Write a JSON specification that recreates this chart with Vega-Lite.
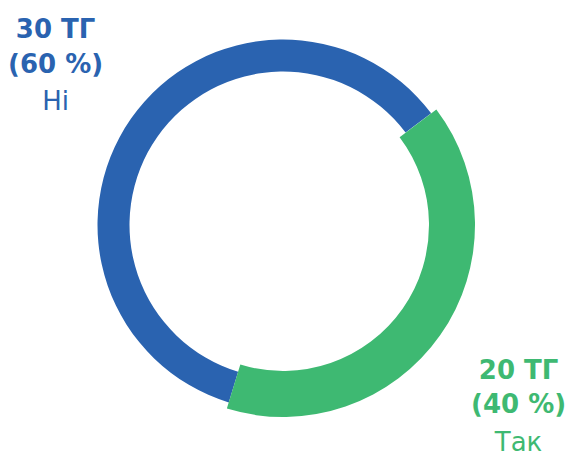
{
  "$schema": "https://vega.github.io/schema/vega-lite/v6.json",
  "width": 566,
  "height": 450,
  "autosize": "none",
  "padding": {"left": 0, "right": 0, "top": 0, "bottom": 7},
  "background": "white",
  "config": {
    "view": {"stroke": null},
    "text": {"font": "DejaVu Sans", "fontSize": 26, "align": "center", "baseline": "alphabetic"}
  },
  "data": {
    "values": [
      {"answer": "Так", "count": 20, "share": 40},
      {"answer": "Ні", "count": 30, "share": 60}
    ]
  },
  "transform": [
    {"stack": "count", "groupby": [], "sort": [{"field": "count", "order": "ascending"}], "as": ["start", "end"]},
    {"calculate": "(datum.start + datum.end) / 2", "as": "mid"},
    {"calculate": "datum.count + ' ТГ'", "as": "countLabel"},
    {"calculate": "'(' + datum.share + ' %)'", "as": "shareLabel"}
  ],
  "encoding": {
    "color": {
      "field": "answer",
      "type": "nominal",
      "scale": {"domain": ["Так", "Ні"], "range": ["#3EB972", "#2A63B0"]},
      "legend": null
    }
  },
  "layer": [
    {
      "transform": [{"filter": "datum.answer == 'Ні'"}],
      "mark": {"type": "arc", "outerRadius": 185.5, "innerRadius": 153.5},
      "encoding": {
        "theta": {"field": "start", "type": "quantitative", "stack": null, "scale": {"domain": [0, 50], "range": [0.925, 7.2082]}},
        "theta2": {"field": "end"}
      }
    },
    {
      "transform": [{"filter": "datum.answer == 'Так'"}],
      "mark": {"type": "arc", "outerRadius": 192, "innerRadius": 146},
      "encoding": {
        "theta": {"field": "start", "type": "quantitative", "stack": null},
        "theta2": {"field": "end"}
      }
    },
    {
      "transform": [{"filter": "datum.answer == 'Ні'"}],
      "mark": {"type": "text", "radius": 274, "dx": -3, "dy": -30, "fontWeight": "bold"},
      "encoding": {
        "theta": {"field": "mid", "type": "quantitative", "stack": null},
        "text": {"field": "countLabel"}
      }
    },
    {
      "transform": [{"filter": "datum.answer == 'Ні'"}],
      "mark": {"type": "text", "radius": 274, "dx": -3, "dy": 5, "fontWeight": "bold"},
      "encoding": {
        "theta": {"field": "mid", "type": "quantitative", "stack": null},
        "text": {"field": "shareLabel"}
      }
    },
    {
      "transform": [{"filter": "datum.answer == 'Ні'"}],
      "mark": {"type": "text", "radius": 274, "dx": -3, "dy": 42},
      "encoding": {
        "theta": {"field": "mid", "type": "quantitative", "stack": null},
        "text": {"field": "answer"}
      }
    },
    {
      "transform": [{"filter": "datum.answer == 'Так'"}],
      "mark": {"type": "text", "radius": 290, "dx": -2, "dy": -12, "fontWeight": "bold"},
      "encoding": {
        "theta": {"field": "mid", "type": "quantitative", "stack": null},
        "text": {"field": "countLabel"}
      }
    },
    {
      "transform": [{"filter": "datum.answer == 'Так'"}],
      "mark": {"type": "text", "radius": 290, "dx": -2, "dy": 22, "fontWeight": "bold"},
      "encoding": {
        "theta": {"field": "mid", "type": "quantitative", "stack": null},
        "text": {"field": "shareLabel"}
      }
    },
    {
      "transform": [{"filter": "datum.answer == 'Так'"}],
      "mark": {"type": "text", "radius": 290, "dx": -2, "dy": 60},
      "encoding": {
        "theta": {"field": "mid", "type": "quantitative", "stack": null},
        "text": {"field": "answer"}
      }
    }
  ]
}
